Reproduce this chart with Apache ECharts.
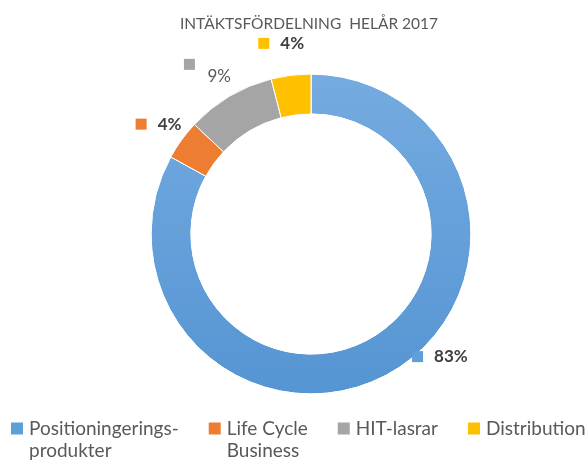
<!DOCTYPE html>
<html>
<head>
<meta charset="utf-8">
<script src="https://cdn.jsdelivr.net/npm/echarts@6/dist/echarts.min.js"></script>
<style>
html, body { margin: 0; padding: 0; background: #fff; }
#chart { width: 588px; height: 461px; }
</style>
</head>
<body>
<div id="chart"></div>
<script>
const categories = ["Positioningerings-\nprodukter", "Life Cycle\nBusiness", "HIT-lasrar", "Distribution"];
const shares = [83, 4, 9, 4];
const colors = ["#5f9fd9", "#ed7d31", "#a5a5a5", "#ffc000"];

const chart = echarts.init(document.getElementById("chart"));

const rich = {
    v: { color: "#404040", fontSize: 17, fontWeight: "bold", fontFamily: "Lato", padding: [0, 0, 0, 11] },
    vn: { color: "#595959", fontSize: 17, fontFamily: "Lato", padding: [0, 0, 0, 11], lineHeight: 14 },
    gap: { width: 11, height: 11 },
    fill: { width: 36, height: 11 },
};
const legendRich = {
    t: { fontFamily: "Lato", fontSize: 19, color: "#595959", lineHeight: 22, padding: [0, 0, 0, 6] },
    gap: { width: 12, height: 22 },
};
colors.forEach((c, i) => {
    rich["s" + i] = { width: 11, height: 11, backgroundColor: c };
    legendRich["s" + i] = { width: 12, height: 12, backgroundColor: c };
});

// label offsets from the default outside position
const labelShift = [[-23, -28], [47, -7], [44, -12], [50, -17]];

const option = {
    title: {
        text: "INTÄKTSFÖRDELNING  HELÅR 2017",
        left: 304,
        top: 11,
        textAlign: "center",
        textStyle: { fontFamily: "Lato", fontSize: 15.5, fontWeight: "normal", color: "#595959" },
    },
    legend: {
        left: 0,
        top: 414,
        width: 588,
        itemWidth: 0,
        itemHeight: 0,
        itemGap: 24,
        icon: "rect",
        data: categories,
        formatter: (name) => {
            const i = categories.indexOf(name);
            const lines = name.split("\n");
            if (lines.length < 2) lines.push("");
            return lines
                .map((l, k) => (k === 0 ? "{s" + i + "|}" : "{gap|}") + "{t|" + l + "}")
                .join("\n");
        },
        textStyle: { rich: legendRich },
    },
    series: [
        {
            type: "pie",
            center: [311, 234],
            radius: [120, 160],
            startAngle: 90,
            clockwise: true,
            avoidLabelOverlap: false,
            silent: true,
            itemStyle: { borderColor: "#fff", borderWidth: 1 },
            label: {
                show: true,
                position: "outside",
                formatter: (p) =>
                    p.dataIndex === 2
                        ? "{s2|}{fill|}\n{gap|}{vn|" + p.value + "%}"
                        : "{s" + p.dataIndex + "|}{v|" + p.value + "%}",
                rich: rich,
            },
            labelLine: { show: false },
            labelLayout: (p) => ({ dx: labelShift[p.dataIndex][0], dy: labelShift[p.dataIndex][1] }),
            data: categories.map((n, i) => ({
                name: n,
                value: shares[i],
                itemStyle: {
                    color: i === 0
                        ? new echarts.graphic.LinearGradient(0, 0, 0, 1, [
                              { offset: 0, color: "#75abe0" },
                              { offset: 1, color: "#5595d3" },
                          ])
                        : colors[i],
                },
            })),
        },
    ],
};
chart.setOption(option);
</script>
</body>
</html>
